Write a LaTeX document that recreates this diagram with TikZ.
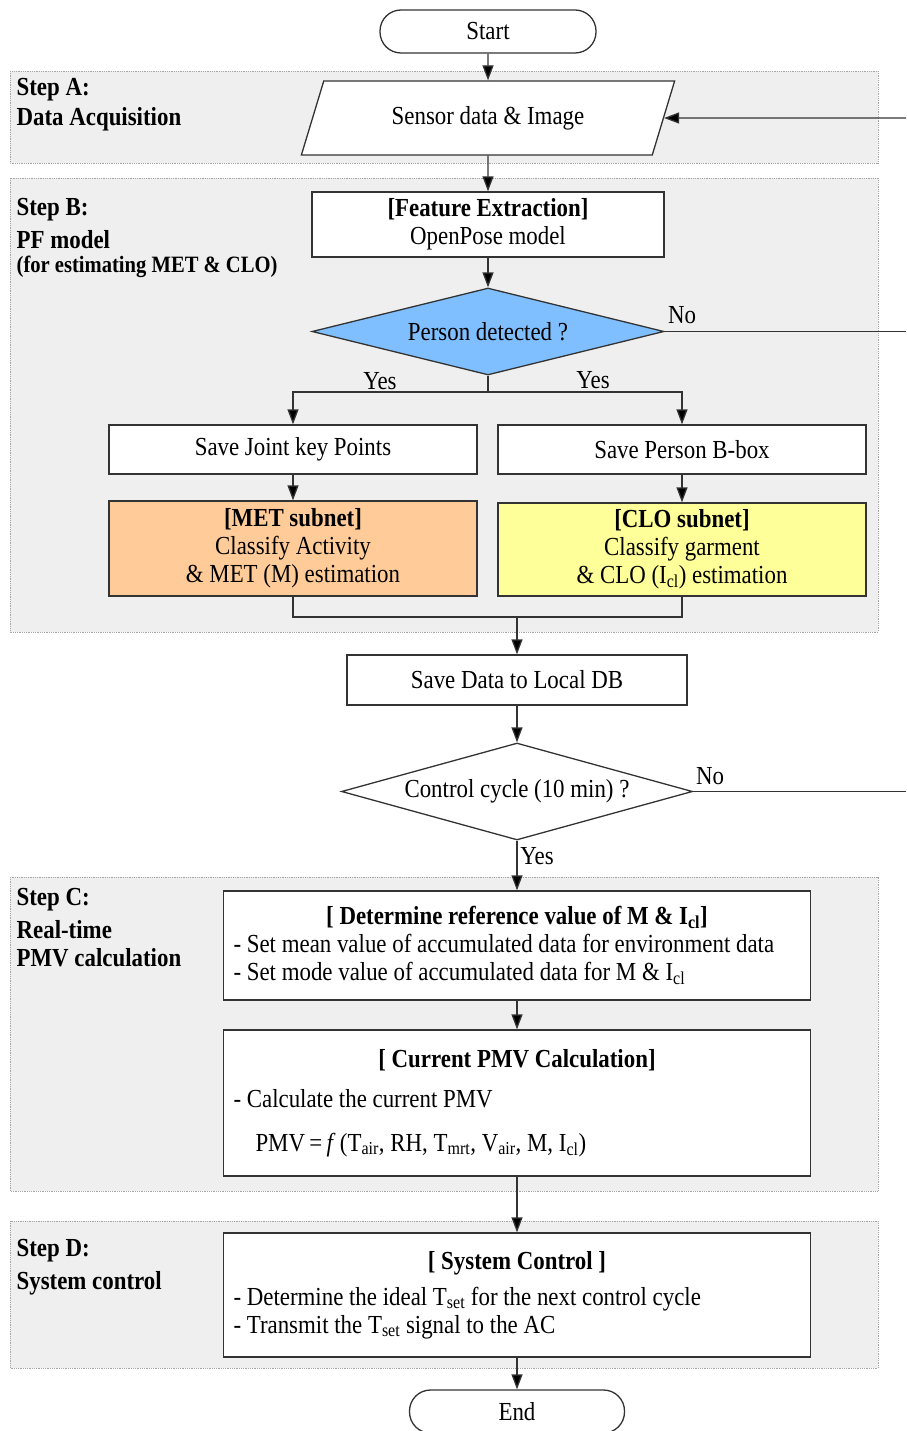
\documentclass[tikz,border=0pt]{standalone}
\usepackage{fontspec}
\setmainfont{Liberation Serif}[FakeStretch=0.88]
\usepackage{xcolor}
\usetikzlibrary{shapes.geometric,arrows.meta}

\definecolor{stepgray}{HTML}{EFEFEF}
\definecolor{detblue}{HTML}{80BFFF}
\definecolor{metorange}{HTML}{FFCC99}
\definecolor{cloyellow}{HTML}{FFFF99}
\definecolor{linegray}{HTML}{333333}

\begin{document}
\begin{tikzpicture}[x=1pt,y=-1pt,line width=1.3pt,
  every node/.style={font=\fontsize{26}{28}\selectfont},
  stepbg/.style={draw=gray!70, densely dotted, line width=0.8pt, fill=stepgray},
  steplabel/.style={anchor=west, inner sep=0pt, font=\fontsize{26}{28}\selectfont\bfseries},
  box/.style={draw=linegray, fill=white, inner sep=0pt, align=center},
  textbox/.style={box, inner xsep=10pt, text width=567pt, align=flush left},
  terminal/.style={box, rounded corners=21pt, minimum height=43pt},
  decision/.style={diamond, draw=linegray, fill=white, inner sep=0pt, aspect=4},
  io/.style={trapezium, trapezium left angle=61, trapezium right angle=119,
    trapezium stretches=true, draw=linegray, fill=white, inner sep=0pt},
  lbl/.style={inner sep=0pt},
  arr/.style={draw=linegray, -{Triangle[length=15pt,width=11pt,fill=black]}}]
\clip (0,0) rectangle (906,1431);

% Step areas
\draw[stepbg] (10,71) rectangle (878,163);
\draw[stepbg] (10,178) rectangle (878,632);
\draw[stepbg] (10,877) rectangle (878,1191);
\draw[stepbg] (10,1221) rectangle (878,1368);

% Step labels
\node[steplabel] (sa1) at (16,90) {Step A:};
\node[steplabel] (sa2) at (16,119) {Data Acquisition};
\node[steplabel] (sb1) at (16,210) {Step B:};
\node[steplabel] (sb2) at (16,240) {PF model};
\node[steplabel, font=\fontsize{23.4}{25}\selectfont\bfseries] (sb3) at (16,267) {(for estimating MET \& CLO)};
\node[steplabel] (sc1) at (16,900) {Step C:};
\node[steplabel] (sc2) at (16,930) {Real-time};
\node[steplabel] (sc3) at (16,958) {PMV calculation};
\node[steplabel] (sd1) at (16,1251) {Step D:};
\node[steplabel] (sd2) at (16,1283) {System control};

% Points
\node[terminal, minimum width=216pt] (start) at (488,31.5) {Start};
\node[io, minimum width=374pt, minimum height=74pt] (sensor) at (488,118) {Sensor data \& Image};
\node[box, minimum width=352pt, minimum height=65pt] (feat) at (488,224.5) {\textbf{[Feature Extraction]}\\OpenPose model};
\node[decision, fill=detblue, minimum width=352pt, minimum height=87pt] (person) at (488,331.5) {Person detected ?};
\coordinate (split) at (488,392);
\node[box, minimum width=368pt, minimum height=49pt] (joint) at (293,449.5) {Save Joint key Points};
\node[box, minimum width=368pt, minimum height=49pt] (bbox) at (682,449.5) {Save Person B-box};
\node[box, fill=metorange, minimum width=368pt, minimum height=95pt] (met) at (293,548.5) {\textbf{[MET subnet]}\\Classify Activity\\\& MET (M) estimation};
\node[box, fill=cloyellow, minimum width=368pt, minimum height=93pt] (clo) at (682,549.5) {\textbf{[CLO subnet]}\\Classify garment\\\& CLO (I\textsubscript{cl}) estimation};
\coordinate (merge) at (517,617);
\node[box, minimum width=340pt, minimum height=50pt] (savedb) at (517,680) {Save Data to Local DB};
\node[decision, minimum width=351pt, minimum height=97pt] (cycle) at (517,791.5) {Control cycle (10 min) ?};
\node[textbox, minimum height=109pt] (refval) at (517,945.5) {\makebox[\linewidth]{\textbf{[ Determine reference value of M \& I\textsubscript{cl}]}}\\- Set mean value of accumulated data for environment data\\- Set mode value of accumulated data for M \& I\textsubscript{cl}};
\node[textbox, minimum height=146pt] (pmvcalc) at (517,1103) {\makebox[\linewidth]{\textbf{[ Current PMV Calculation]}}\\[12pt]- Calculate the current PMV\\[16pt]\hspace*{22pt}PMV\,=\,\textit{f}\,(T\textsubscript{air}, RH, T\textsubscript{mrt}, V\textsubscript{air}, M, I\textsubscript{cl})};
\node[textbox, minimum height=124pt] (sysctrl) at (517,1295) {\makebox[\linewidth]{\textbf{[ System Control ]}}\\[8pt]- Determine the ideal T\textsubscript{set} for the next control cycle\\- Transmit the T\textsubscript{set} signal to the AC};
\node[terminal, minimum width=215pt] (end) at (517,1411.5) {End};
\coordinate (loopin) at (906,118);
\coordinate (noA) at (906,331.5);
\coordinate (noB) at (906,791.5);

% Labels
\node[lbl] (yesA) at (380,381) {Yes};
\node[lbl] (yesB) at (593,380) {Yes};
\node[lbl] (noAl) at (682,315) {No};
\node[lbl] (noBl) at (710,776) {No};
\node[lbl] (yesC) at (537,856) {Yes};

%Lines
\draw[arr] (start) -- (sensor);
\draw[arr] (sensor) -- (feat);
\draw[arr] (feat) -- (person);
\draw[draw=linegray] (person.south) -- (split);
\draw[arr] (split) -| (joint);
\draw[arr] (split) -| (bbox);
\draw[arr] (joint) -- (met);
\draw[arr] (bbox) -- (clo);
\draw[draw=linegray] (met.south) |- (merge) -| (clo.south);
\draw[arr] (merge) -- (savedb);
\draw[arr] (savedb) -- (cycle);
\draw[arr] (cycle) -- (refval);
\draw[arr] (refval) -- (pmvcalc);
\draw[arr] (pmvcalc) -- (sysctrl);
\draw[arr] (sysctrl) -- (end);
\draw[draw=linegray] (person.east) -- (noA);
\draw[draw=linegray] (cycle.east) -- (noB);
\draw[arr] (loopin) -- (sensor.east);
\end{tikzpicture}
\end{document}
